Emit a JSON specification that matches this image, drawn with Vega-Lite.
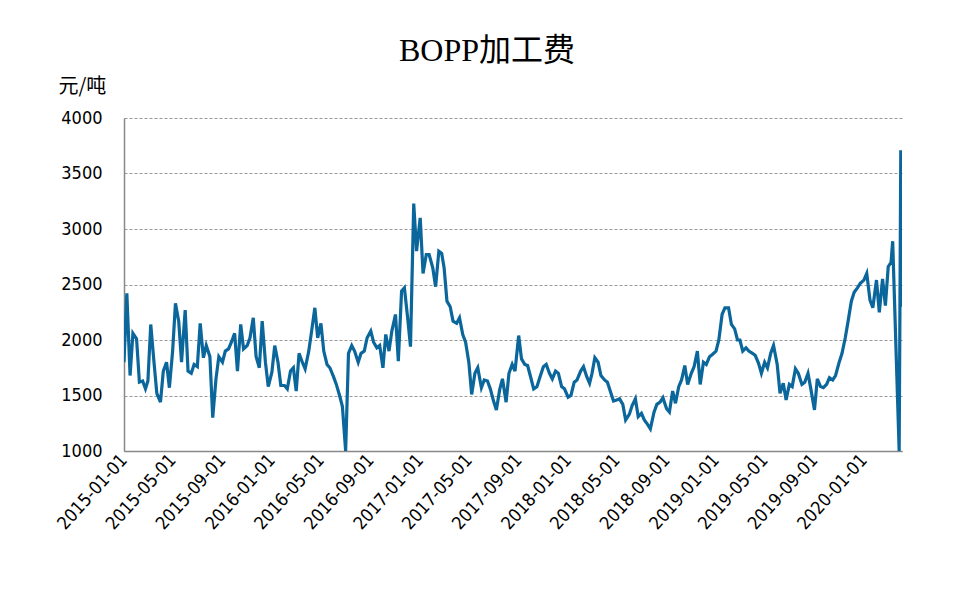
{
  "$schema": "https://vega.github.io/schema/vega-lite/v6.json",
  "width": 778,
  "height": 333,
  "autosize": {"type": "none"},
  "padding": {"left": 124, "top": 118, "right": 59, "bottom": 139},
  "background": "white",
  "title": {
    "text": "BOPP加工费",
    "font": "Liberation Serif, Noto Sans CJK SC",
    "fontSize": 32,
    "fontWeight": "normal",
    "color": "#000000",
    "anchor": "middle",
    "frame": "group",
    "dx": -26,
    "offset": 8
  },
  "config": {
    "view": {"stroke": null},
    "axis": {"labelColor": "#000000", "titleColor": "#000000"}
  },
  "data": {
    "values": [
      {"date": "2015-01-01", "v": 1800}, {"date": "2015-01-08", "v": 2420}, {"date": "2015-01-16", "v": 1680}, {"date": "2015-01-23", "v": 2060},
      {"date": "2015-02-01", "v": 2010}, {"date": "2015-02-08", "v": 1620}, {"date": "2015-02-16", "v": 1630}, {"date": "2015-02-23", "v": 1560},
      {"date": "2015-03-01", "v": 1630}, {"date": "2015-03-08", "v": 2140}, {"date": "2015-03-16", "v": 1800}, {"date": "2015-03-23", "v": 1520},
      {"date": "2015-04-01", "v": 1440}, {"date": "2015-04-08", "v": 1720}, {"date": "2015-04-16", "v": 1800}, {"date": "2015-04-23", "v": 1570},
      {"date": "2015-05-01", "v": 1900}, {"date": "2015-05-08", "v": 2330}, {"date": "2015-05-16", "v": 2170}, {"date": "2015-05-23", "v": 1800},
      {"date": "2015-06-01", "v": 2270}, {"date": "2015-06-08", "v": 1720}, {"date": "2015-06-16", "v": 1700}, {"date": "2015-06-23", "v": 1780},
      {"date": "2015-07-01", "v": 1760}, {"date": "2015-07-08", "v": 2150}, {"date": "2015-07-16", "v": 1840}, {"date": "2015-07-23", "v": 1950},
      {"date": "2015-08-01", "v": 1850}, {"date": "2015-08-08", "v": 1300}, {"date": "2015-08-16", "v": 1650}, {"date": "2015-08-23", "v": 1850},
      {"date": "2015-09-01", "v": 1800}, {"date": "2015-09-08", "v": 1900}, {"date": "2015-09-16", "v": 1920}, {"date": "2015-09-23", "v": 1980},
      {"date": "2015-10-01", "v": 2060}, {"date": "2015-10-08", "v": 1720}, {"date": "2015-10-16", "v": 2140}, {"date": "2015-10-23", "v": 1920},
      {"date": "2015-11-01", "v": 1950}, {"date": "2015-11-08", "v": 2020}, {"date": "2015-11-16", "v": 2200}, {"date": "2015-11-23", "v": 1850},
      {"date": "2015-12-01", "v": 1750}, {"date": "2015-12-08", "v": 2170}, {"date": "2015-12-16", "v": 1800}, {"date": "2015-12-23", "v": 1580},
      {"date": "2016-01-01", "v": 1710}, {"date": "2016-01-08", "v": 1950}, {"date": "2016-01-16", "v": 1800}, {"date": "2016-01-23", "v": 1590},
      {"date": "2016-02-01", "v": 1590}, {"date": "2016-02-08", "v": 1560}, {"date": "2016-02-16", "v": 1720}, {"date": "2016-02-23", "v": 1750},
      {"date": "2016-03-01", "v": 1540}, {"date": "2016-03-08", "v": 1880}, {"date": "2016-03-16", "v": 1800}, {"date": "2016-03-23", "v": 1740},
      {"date": "2016-04-01", "v": 1900}, {"date": "2016-04-08", "v": 2080}, {"date": "2016-04-16", "v": 2290}, {"date": "2016-04-23", "v": 2020},
      {"date": "2016-05-01", "v": 2150}, {"date": "2016-05-08", "v": 1900}, {"date": "2016-05-16", "v": 1780}, {"date": "2016-05-23", "v": 1750},
      {"date": "2016-06-01", "v": 1670}, {"date": "2016-06-08", "v": 1600}, {"date": "2016-06-16", "v": 1500}, {"date": "2016-06-23", "v": 1400},
      {"date": "2016-07-01", "v": 1000}, {"date": "2016-07-08", "v": 1880}, {"date": "2016-07-16", "v": 1950}, {"date": "2016-07-23", "v": 1900},
      {"date": "2016-08-01", "v": 1800}, {"date": "2016-08-08", "v": 1880}, {"date": "2016-08-16", "v": 1900}, {"date": "2016-08-23", "v": 2020},
      {"date": "2016-09-01", "v": 2080}, {"date": "2016-09-08", "v": 1980}, {"date": "2016-09-16", "v": 1930}, {"date": "2016-09-23", "v": 1950},
      {"date": "2016-10-01", "v": 1750}, {"date": "2016-10-08", "v": 2050}, {"date": "2016-10-16", "v": 1900}, {"date": "2016-10-23", "v": 2080},
      {"date": "2016-11-01", "v": 2230}, {"date": "2016-11-08", "v": 1810}, {"date": "2016-11-16", "v": 2440}, {"date": "2016-11-23", "v": 2470},
      {"date": "2016-12-01", "v": 2200}, {"date": "2016-12-08", "v": 1940}, {"date": "2016-12-16", "v": 3230}, {"date": "2016-12-23", "v": 2800},
      {"date": "2017-01-01", "v": 3100}, {"date": "2017-01-08", "v": 2600}, {"date": "2017-01-16", "v": 2770}, {"date": "2017-01-23", "v": 2770},
      {"date": "2017-02-01", "v": 2650}, {"date": "2017-02-08", "v": 2480}, {"date": "2017-02-16", "v": 2800}, {"date": "2017-02-23", "v": 2780},
      {"date": "2017-03-01", "v": 2650}, {"date": "2017-03-08", "v": 2350}, {"date": "2017-03-16", "v": 2300}, {"date": "2017-03-23", "v": 2170},
      {"date": "2017-04-01", "v": 2150}, {"date": "2017-04-08", "v": 2200}, {"date": "2017-04-16", "v": 2050}, {"date": "2017-04-23", "v": 1980},
      {"date": "2017-05-01", "v": 1800}, {"date": "2017-05-08", "v": 1510}, {"date": "2017-05-16", "v": 1700}, {"date": "2017-05-23", "v": 1750},
      {"date": "2017-06-01", "v": 1570}, {"date": "2017-06-08", "v": 1640}, {"date": "2017-06-16", "v": 1630}, {"date": "2017-06-23", "v": 1560},
      {"date": "2017-07-01", "v": 1450}, {"date": "2017-07-08", "v": 1370}, {"date": "2017-07-16", "v": 1550}, {"date": "2017-07-23", "v": 1650},
      {"date": "2017-08-01", "v": 1440}, {"date": "2017-08-08", "v": 1700}, {"date": "2017-08-16", "v": 1780}, {"date": "2017-08-23", "v": 1720},
      {"date": "2017-09-01", "v": 2040}, {"date": "2017-09-08", "v": 1830}, {"date": "2017-09-16", "v": 1780}, {"date": "2017-09-23", "v": 1770},
      {"date": "2017-10-01", "v": 1660}, {"date": "2017-10-08", "v": 1560}, {"date": "2017-10-16", "v": 1580}, {"date": "2017-10-23", "v": 1660},
      {"date": "2017-11-01", "v": 1760}, {"date": "2017-11-08", "v": 1780}, {"date": "2017-11-16", "v": 1700}, {"date": "2017-11-23", "v": 1650},
      {"date": "2017-12-01", "v": 1720}, {"date": "2017-12-08", "v": 1700}, {"date": "2017-12-16", "v": 1580}, {"date": "2017-12-23", "v": 1560},
      {"date": "2018-01-01", "v": 1485}, {"date": "2018-01-08", "v": 1500}, {"date": "2018-01-16", "v": 1620}, {"date": "2018-01-23", "v": 1640},
      {"date": "2018-02-01", "v": 1720}, {"date": "2018-02-08", "v": 1760}, {"date": "2018-02-16", "v": 1670}, {"date": "2018-02-23", "v": 1610},
      {"date": "2018-03-01", "v": 1700}, {"date": "2018-03-08", "v": 1840}, {"date": "2018-03-16", "v": 1800}, {"date": "2018-03-23", "v": 1680},
      {"date": "2018-04-01", "v": 1640}, {"date": "2018-04-08", "v": 1620}, {"date": "2018-04-16", "v": 1530}, {"date": "2018-04-23", "v": 1450},
      {"date": "2018-05-01", "v": 1460}, {"date": "2018-05-08", "v": 1470}, {"date": "2018-05-16", "v": 1420}, {"date": "2018-05-23", "v": 1280},
      {"date": "2018-06-01", "v": 1330}, {"date": "2018-06-08", "v": 1410}, {"date": "2018-06-16", "v": 1470}, {"date": "2018-06-23", "v": 1310},
      {"date": "2018-07-01", "v": 1340}, {"date": "2018-07-08", "v": 1280}, {"date": "2018-07-16", "v": 1240}, {"date": "2018-07-23", "v": 1200},
      {"date": "2018-08-01", "v": 1350}, {"date": "2018-08-08", "v": 1420}, {"date": "2018-08-16", "v": 1440}, {"date": "2018-08-23", "v": 1480},
      {"date": "2018-09-01", "v": 1380}, {"date": "2018-09-08", "v": 1350}, {"date": "2018-09-16", "v": 1540}, {"date": "2018-09-23", "v": 1430},
      {"date": "2018-10-01", "v": 1580}, {"date": "2018-10-08", "v": 1640}, {"date": "2018-10-16", "v": 1770}, {"date": "2018-10-23", "v": 1600},
      {"date": "2018-11-01", "v": 1700}, {"date": "2018-11-08", "v": 1760}, {"date": "2018-11-16", "v": 1900}, {"date": "2018-11-23", "v": 1600},
      {"date": "2018-12-01", "v": 1800}, {"date": "2018-12-08", "v": 1780}, {"date": "2018-12-16", "v": 1850}, {"date": "2018-12-23", "v": 1870},
      {"date": "2019-01-01", "v": 1900}, {"date": "2019-01-08", "v": 2000}, {"date": "2019-01-16", "v": 2230}, {"date": "2019-01-23", "v": 2290},
      {"date": "2019-02-01", "v": 2290}, {"date": "2019-02-08", "v": 2140}, {"date": "2019-02-16", "v": 2100}, {"date": "2019-02-23", "v": 2000},
      {"date": "2019-03-01", "v": 2000}, {"date": "2019-03-08", "v": 1900}, {"date": "2019-03-16", "v": 1930}, {"date": "2019-03-23", "v": 1900},
      {"date": "2019-04-01", "v": 1880}, {"date": "2019-04-08", "v": 1860}, {"date": "2019-04-16", "v": 1790}, {"date": "2019-04-23", "v": 1700},
      {"date": "2019-05-01", "v": 1800}, {"date": "2019-05-08", "v": 1750}, {"date": "2019-05-16", "v": 1880}, {"date": "2019-05-23", "v": 1950},
      {"date": "2019-06-01", "v": 1780}, {"date": "2019-06-08", "v": 1520}, {"date": "2019-06-16", "v": 1610}, {"date": "2019-06-23", "v": 1460},
      {"date": "2019-07-01", "v": 1600}, {"date": "2019-07-08", "v": 1580}, {"date": "2019-07-16", "v": 1740}, {"date": "2019-07-23", "v": 1700},
      {"date": "2019-08-01", "v": 1600}, {"date": "2019-08-08", "v": 1620}, {"date": "2019-08-16", "v": 1700}, {"date": "2019-08-23", "v": 1560},
      {"date": "2019-09-01", "v": 1370}, {"date": "2019-09-08", "v": 1650}, {"date": "2019-09-16", "v": 1580}, {"date": "2019-09-23", "v": 1570},
      {"date": "2019-10-01", "v": 1600}, {"date": "2019-10-08", "v": 1660}, {"date": "2019-10-16", "v": 1640}, {"date": "2019-10-23", "v": 1680},
      {"date": "2019-11-01", "v": 1800}, {"date": "2019-11-08", "v": 1880}, {"date": "2019-11-16", "v": 2020}, {"date": "2019-11-23", "v": 2170},
      {"date": "2019-12-01", "v": 2350}, {"date": "2019-12-08", "v": 2430}, {"date": "2019-12-16", "v": 2470}, {"date": "2019-12-23", "v": 2510},
      {"date": "2020-01-01", "v": 2540}, {"date": "2020-01-08", "v": 2600}, {"date": "2020-01-16", "v": 2360}, {"date": "2020-01-23", "v": 2290},
      {"date": "2020-02-01", "v": 2540}, {"date": "2020-02-08", "v": 2250}, {"date": "2020-02-16", "v": 2550}, {"date": "2020-02-23", "v": 2310},
      {"date": "2020-03-01", "v": 2660}, {"date": "2020-03-08", "v": 2700}, {"date": "2020-03-12", "v": 2890}, {"date": "2020-03-14", "v": 2650},
      {"date": "2020-03-28", "v": 1000}, {"date": "2020-04-01", "v": 3710}, {"date": "2020-04-03", "v": 2300}
    ]
  },
  "mark": {"type": "line", "color": "#0b679b", "strokeWidth": 3.2, "clip": true},
  "encoding": {
    "x": {
      "field": "date",
      "type": "temporal",
      "scale": {
        "type": "utc",
        "domain": [
          {"year": 2015, "month": 1, "date": 1, "utc": true},
          {"year": 2020, "month": 4, "date": 4, "utc": true}
        ]
      },
      "axis": {
        "title": null,
        "values": [
          {"year": 2015, "month": 1, "date": 1, "utc": true},
          {"year": 2015, "month": 5, "date": 1, "utc": true},
          {"year": 2015, "month": 9, "date": 1, "utc": true},
          {"year": 2016, "month": 1, "date": 1, "utc": true},
          {"year": 2016, "month": 5, "date": 1, "utc": true},
          {"year": 2016, "month": 9, "date": 1, "utc": true},
          {"year": 2017, "month": 1, "date": 1, "utc": true},
          {"year": 2017, "month": 5, "date": 1, "utc": true},
          {"year": 2017, "month": 9, "date": 1, "utc": true},
          {"year": 2018, "month": 1, "date": 1, "utc": true},
          {"year": 2018, "month": 5, "date": 1, "utc": true},
          {"year": 2018, "month": 9, "date": 1, "utc": true},
          {"year": 2019, "month": 1, "date": 1, "utc": true},
          {"year": 2019, "month": 5, "date": 1, "utc": true},
          {"year": 2019, "month": 9, "date": 1, "utc": true},
          {"year": 2020, "month": 1, "date": 1, "utc": true}
        ],
        "format": "%Y-%m-%d",
        "labelAngle": -48,
        "labelFont": "DejaVu Sans Condensed, Liberation Sans",
        "labelFontSize": 18,
        "labelPadding": 6,
        "labelOverlap": false,
        "labelFlush": false,
        "ticks": false,
        "grid": false,
        "domainColor": "#888888",
        "domainWidth": 1.5
      }
    },
    "y": {
      "field": "v",
      "type": "quantitative",
      "scale": {"domain": [1000, 4000], "nice": false, "zero": false},
      "axis": {
        "title": "元/吨",
        "titleAngle": 0,
        "titleAlign": "left",
        "titleBaseline": "alphabetic",
        "titleX": -66,
        "titleY": -26,
        "titleFont": "Noto Sans CJK SC",
        "titleFontSize": 20,
        "titleFontWeight": "normal",
        "values": [1000, 1500, 2000, 2500, 3000, 3500, 4000],
        "format": "d",
        "labelFont": "DejaVu Sans Condensed, Liberation Sans",
        "labelFontSize": 18,
        "labelPadding": 22,
        "ticks": false,
        "grid": true,
        "gridDash": [3, 2],
        "gridColor": "#999999",
        "gridWidth": 1,
        "domainColor": "#888888",
        "domainWidth": 1.5
      }
    }
  }
}
